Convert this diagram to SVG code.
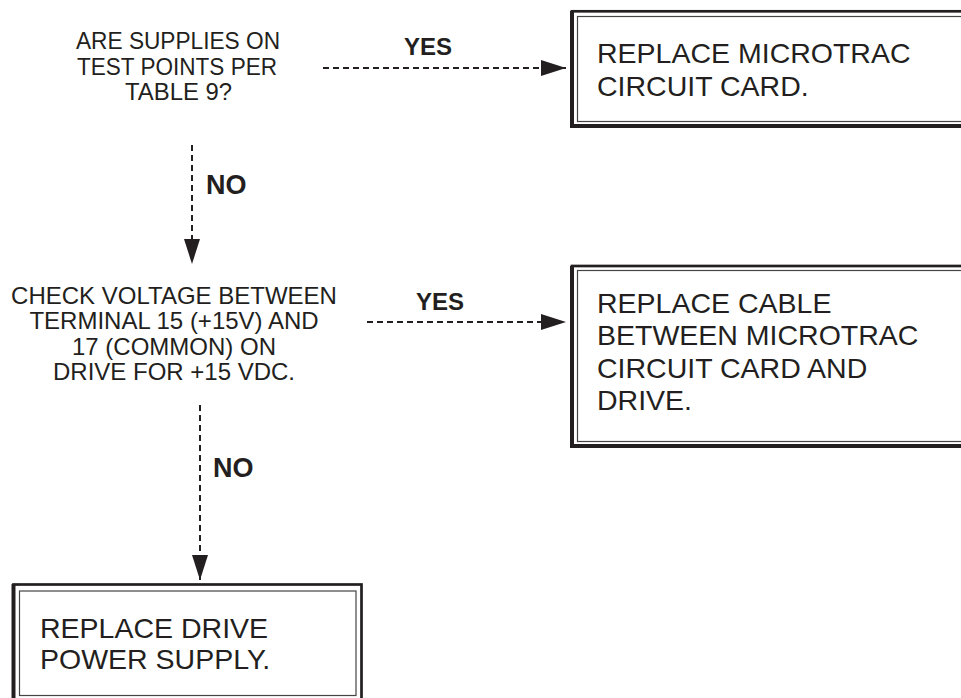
<svg xmlns="http://www.w3.org/2000/svg" width="961" height="698" viewBox="0 0 961 698">
<style>
.q{font-family:"Liberation Sans",Arial,sans-serif;font-size:24px;fill:#231f20;text-anchor:middle}
.b{font-family:"Liberation Sans",Arial,sans-serif;font-size:28.5px;fill:#231f20}
.lbl{font-family:"Liberation Sans",Arial,sans-serif;font-weight:bold;fill:#231f20}
.outer{fill:none;stroke:#231f20;stroke-width:2.7}
.shadow{fill:none;stroke:#231f20;stroke-width:4}
.inner{fill:none;stroke:#444;stroke-width:1.2}
.dash{fill:none;stroke:#231f20;stroke-width:2;stroke-dasharray:6 4}
</style>
<defs>
<marker id="ah" markerUnits="userSpaceOnUse" markerWidth="26" markerHeight="16" refX="25" refY="8" orient="auto">
<path d="M0,0 L25,8 L0,16 Z" fill="#231f20"/>
</marker>
</defs>
<rect width="961" height="698" fill="#fff"/>

<g id="q1">
<text class="q" x="178" y="49" textLength="204" lengthAdjust="spacingAndGlyphs">ARE SUPPLIES ON</text>
<text class="q" x="177" y="74.5" textLength="200" lengthAdjust="spacingAndGlyphs">TEST POINTS PER</text>
<text class="q" x="178.5" y="100" textLength="107" lengthAdjust="spacingAndGlyphs">TABLE 9?</text>
</g>

<g id="q2">
<text class="q" x="174" y="304">CHECK VOLTAGE BETWEEN</text>
<text class="q" x="174" y="329">TERMINAL 15 (+15V) AND</text>
<text class="q" x="174" y="355">17 (COMMON) ON</text>
<text class="q" x="174" y="380">DRIVE FOR +15 VDC.</text>
</g>

<g id="box1">
<rect class="outer" x="572" y="11.3" width="420" height="114.7"/>
<polyline class="shadow" points="572,11 572,126 970,126"/>
<rect class="inner" x="577.5" y="16.5" width="410" height="105"/>
<text class="b" x="597" y="63">REPLACE MICROTRAC</text>
<text class="b" x="597" y="96">CIRCUIT CARD.</text>
</g>

<g id="box2">
<rect class="outer" x="572" y="266" width="420" height="180"/>
<polyline class="shadow" points="572,266 572,446 970,446"/>
<rect class="inner" x="577.5" y="270.5" width="410" height="171"/>
<text class="b" x="597" y="313">REPLACE CABLE</text>
<text class="b" x="597" y="345">BETWEEN MICROTRAC</text>
<text class="b" x="597" y="378">CIRCUIT CARD AND</text>
<text class="b" x="597" y="410">DRIVE.</text>
</g>

<g id="box3">
<rect class="outer" x="13.5" y="584.5" width="348" height="120"/>
<line class="shadow" x1="13.5" y1="584" x2="13.5" y2="705"/>
<rect class="inner" x="19.5" y="591" width="336.5" height="104.5"/>
<text class="b" x="40" y="638">REPLACE DRIVE</text>
<text class="b" x="40" y="669">POWER SUPPLY.</text>
</g>

<g id="connectors">
<line class="dash" x1="323" y1="68" x2="566" y2="68" marker-end="url(#ah)"/>
<text class="lbl" x="428" y="55" font-size="24" text-anchor="middle">YES</text>
<line class="dash" x1="192" y1="145" x2="192" y2="264" marker-end="url(#ah)"/>
<text class="lbl" x="206" y="194" font-size="27">NO</text>
<line class="dash" x1="367" y1="322" x2="566" y2="322" marker-end="url(#ah)"/>
<text class="lbl" x="440" y="310" font-size="24" text-anchor="middle">YES</text>
<line class="dash" x1="200" y1="405" x2="200" y2="580" marker-end="url(#ah)"/>
<text class="lbl" x="213" y="477" font-size="27">NO</text>
</g>
</svg>
